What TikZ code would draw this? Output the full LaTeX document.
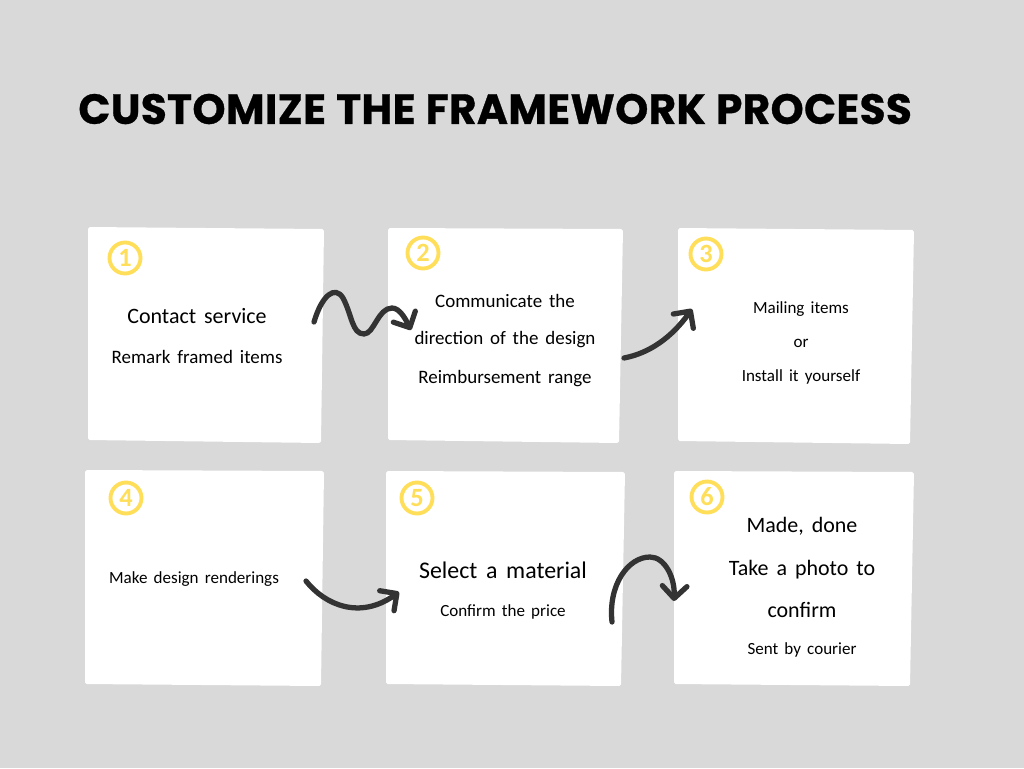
\documentclass[tikz,border=0pt]{standalone}
\usepackage{fontspec}
\setmainfont[WordSpace=1.6]{Carlito}
\newfontfamily\titlefont[LetterSpace=0.8,WordSpace=1.1,BoldFeatures={FakeBold=0.7}]{Poppins}
\usetikzlibrary{arrows.meta}
\definecolor{pagegray}{HTML}{D9D9D9}
\definecolor{badgeyellow}{HTML}{FFDE59}
\definecolor{arrowgray}{HTML}{333333}

\begin{document}
\begin{tikzpicture}[x=0.02cm,y=-0.02cm,node distance=39*0.02cm]
    \tikzstyle{big}=[inner sep=0pt,font=\fontsize{12.5}{15}\selectfont]
    \tikzstyle{mid}=[inner sep=0pt,font=\fontsize{10.8}{14}\selectfont]
    \tikzstyle{small}=[inner sep=0pt,font=\fontsize{9.7}{13}\selectfont]
    \tikzstyle{badge}=[circle,draw=badgeyellow,line width=2.2pt,minimum size=31*0.02cm,inner sep=0pt,
        text=badgeyellow,font=\bfseries\fontsize{15}{15}\selectfont]
    \tikzstyle{flow}=[draw=arrowgray,line width=3pt,line cap=round,line join=round,
        -{Straight Barb[length=7pt,width=14pt,round]}]
    \useasboundingbox (0,0) rectangle (1024,768);
    \fill[pagegray] (0,0) rectangle (1024,768);
    \node[anchor=west,inner sep=0pt,font=\titlefont\bfseries\fontsize{24}{28}\selectfont] (title) at (78,109) {CUSTOMIZE THE FRAMEWORK PROCESS};
    % cards
    \foreach \a/\b/\c/\d/\e/\f/\g/\h in {
        88/227/324/229/321/443/88/440,
        388/228/623/229/619/443/388/440,
        678/228/914/230/910/444/678/441,
        85/470/324/471/321/686/85/684,
        386/471/625/472/621/686/386/684,
        674/471/914/472/910/686/674/684}
        \fill[white,rounded corners=1pt] (\a,\b) -- (\c,\d) -- (\e,\f) -- (\g,\h) -- cycle;
    \node[badge] (b1) at (125,258) {1};
    \node[badge] (b2) at (423,253) {2};
    \node[badge] (b3) at (706,254) {3};
    \node[badge] (b4) at (126,498) {4};
    \node[badge] (b5) at (417,498) {5};
    \node[badge] (b6) at (707,497) {6};
    % card texts
    \node[big]   (t1)  at (197,316)    {Contact service};
    \node[mid]   (t1b) at (197,357)    {Remark framed items};
    \node[mid]   (t2)  at (505,301)    {Communicate the};
    \node[mid]   (t2b) [below of=t2]   {direction of the design};
    \node[mid]   (t2c) [below of=t2b]  {Reimbursement range};
    \node[small] (t3)  at (801,309)    {Mailing items};
    \node[small] (t3b) at (801,343)    {or};
    \node[small] (t3c) at (801,377)    {Install it yourself};
    \node[small] (t4)  at (194,579)    {Make design renderings};
    \node[big,font=\fontsize{13.6}{15}\selectfont] (t5) at (503,570) {Select a material};
    \node[small] (t5b) at (503,612)    {Confirm the price};
    \node[big]   (t6)  at (802,526)    {Made, done};
    \node[big]   (t6b) at (802,570)    {Take a photo to};
    \node[big]   (t6c) at (802,610)    {confirm};
    \node[small] (t6d) at (802,650)    {Sent by courier};
    % arrows
    \coordinate (a1) at (314,322);
    \coordinate (a2) at (411,330);
    \coordinate (c1) at (624,358);
    \coordinate (c2) at (692,309);
    \coordinate (d1) at (306,581);
    \coordinate (d2) at (399,592);
    \coordinate (e1) at (612,622);
    \coordinate (e2) at (674,601);
    \draw[flow] (a1) .. controls (322,295) and (335,285) .. (343,298)
        .. controls (352,315) and (352,334) .. (364,334)
        .. controls (374,334) and (378,308) .. (392,308)
        .. controls (400,308) and (406,320) .. (a2);
    \draw[flow] (c1) .. controls (650,353) and (672,337) .. (c2);
    \draw[flow] (d1) .. controls (325,605) and (360,620) .. (d2);
    \draw[flow] (e1) .. controls (608,585) and (628,557) .. (650,557)
        .. controls (665,557) and (675,578) .. (e2);
\end{tikzpicture}
\end{document}
